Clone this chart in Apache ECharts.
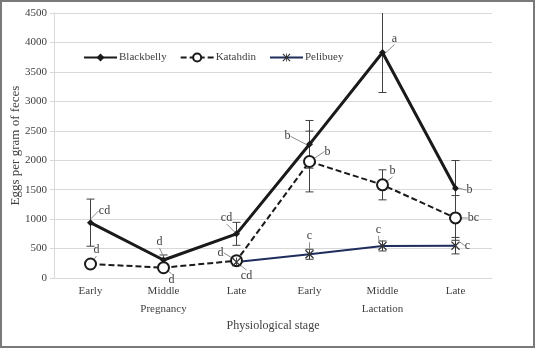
<!DOCTYPE html>
<html><head><meta charset="utf-8">
<script src="https://cdn.jsdelivr.net/npm/echarts@6/dist/echarts.min.js"></script>
<style>
html,body{margin:0;padding:0;background:#fff;}
#c{width:535px;height:348px;box-sizing:border-box;border:2px solid #7a7a7a;}
</style></head>
<body><div id="c"></div>
<script>
var categories = ['Early','Middle','Late','Early','Middle','Late'];
var groups = ['Pregnancy','Lactation'];
var blackbelly = [940, 306, 750, 2270, 3830, 1525];
var blackbellyErr = [400, 85, 195, 405, 680, 470];
var blackbellyLetters = ['cd','d','cd','b','a','b'];
var katahdin = [238, 175, 294, 1978, 1582, 1020];
var katahdinErr = [40, 40, 50, 516, 255, 380];
var katahdinLetters = ['d','d','d','b','b','bc'];
var pelibuey = [null, null, 270, 403, 544, 549];
var pelibueyErr = [null, null, 60, 85, 85, 140];
var pelibueyLetters = [null, null, 'cd','c','c','c'];
var yTicks = [0,500,1000,1500,2000,2500,3000,3500,4000,4500];

var FONT = 'Liberation Serif';
var TXT = '#404040';

// label offsets (styling only)
var bbOff = [[14,-12],[-4,-18],[-10,-16],[-22,-8],[12,-14],[14,2]];
var ktOff = [[6,-14],[8,12],[-16,-8],[18,-10],[10,-14],[18,0]];
var pbOff = [null,null,[10,14],[0,-18],[-4,-16],[12,0]];

function mkData(vals, letters){
  return vals.map(function(v,i){ return {value:v, letter:letters[i]}; });
}
function errData(vals, errs){
  var out=[];
  vals.forEach(function(v,i){ if(v!=null && errs[i]!=null) out.push([i, v-errs[i], v+errs[i]]); });
  return out;
}
function errSeries(vals, errs, color, capW){
  return {
    type:'custom', xAxisIndex:0, yAxisIndex:0, z:1, clip:true, silent:true,
    data: errData(vals, errs),
    renderItem: function(params, api){
      var x=api.value(0);
      var lo=api.coord([x, api.value(1)]);
      var hi=api.coord([x, api.value(2)]);
      var st={stroke:color, lineWidth:1};
      return {type:'group', children:[
        {type:'line', shape:{x1:lo[0],y1:lo[1],x2:hi[0],y2:hi[1]}, style:st},
        {type:'line', shape:{x1:lo[0]-capW,y1:lo[1],x2:lo[0]+capW,y2:lo[1]}, style:st},
        {type:'line', shape:{x1:hi[0]-capW,y1:hi[1],x2:hi[0]+capW,y2:hi[1]}, style:st}
      ]};
    }
  };
}
function lbl(){
  return {
    show:true, position:'inside', fontFamily:FONT, fontSize:12, color:TXT,
    formatter:function(p){ return p.data.letter||''; }
  };
}
function lay(offs){
  return function(p){ var o=offs[p.dataIndex]; if(!o) return {}; return {dx:o[0], dy:o[1]}; };
}
var asterisk = 'path://M1,0L5,4L9,0L10,1L6,5L10,9L9,10L5,6L1,10L0,9L4,5L0,1Z M4.5,0L5.5,0L5.5,10L4.5,10Z';

var chart = echarts.init(document.getElementById('c'));
chart.setOption({
  animation:false,
  grid:{left:52, right:41, top:11, bottom:68, containLabel:false, outerBoundsMode:'none'},
  legend:{
    top:45, left:76, itemGap:13, itemWidth:33, itemHeight:10,
    textStyle:{fontFamily:FONT, fontSize:11, color:TXT, padding:[0,0,0,-3]},
    data:['Blackbelly','Katahdin','Pelibuey']
  },
  xAxis:[
    {type:'category', data:categories, position:'bottom',
     axisLine:{lineStyle:{color:'#d9d9d9'}},
     axisTick:{interval:0, length:19, lineStyle:{color:'#d9d9d9'}},
     axisLabel:{fontFamily:FONT, fontSize:11, color:TXT, margin:8}},
    {type:'category', data:groups, position:'bottom',
     axisLine:{show:false},
     axisTick:{interval:0, length:39, lineStyle:{color:'#d9d9d9'}},
     axisLabel:{fontFamily:FONT, fontSize:11, color:TXT, margin:26},
     name:'Physiological stage', nameLocation:'middle', nameGap:42, nameMoveOverlap:false,
     nameTextStyle:{fontFamily:FONT, fontSize:12, color:TXT}}
  ],
  yAxis:{type:'value', min:0, max:4500, interval:500,
    name:'Eggs per gram of feces', nameLocation:'middle', nameGap:32, nameMoveOverlap:false,
    nameTextStyle:{fontFamily:FONT, fontSize:13, color:TXT},
    axisLine:{show:true, lineStyle:{color:'#d9d9d9'}},
    axisTick:{show:true, length:4, lineStyle:{color:'#d9d9d9'}},
    splitLine:{lineStyle:{color:'#d9d9d9'}},
    axisLabel:{fontFamily:FONT, fontSize:11, color:TXT, margin:7,
      formatter:function(v){ return yTicks.indexOf(v)>=0 ? String(v) : ''; }}
  },
  series:[
    errSeries(blackbelly, blackbellyErr, '#404040', 4),
    errSeries(katahdin, katahdinErr, '#404040', 4),
    errSeries(pelibuey, pelibueyErr, '#404040', 4),
    {name:'Blackbelly', type:'line', z:3, data:mkData(blackbelly, blackbellyLetters),
     symbol:'diamond', symbolSize:7, lineStyle:{color:'#1a1a1a', width:3},
     itemStyle:{color:'#1a1a1a'},
     label:lbl(), labelLayout:lay(bbOff), labelLine:{show:true, lineStyle:{color:'#8c8c8c', width:1}}},
    {name:'Katahdin', type:'line', z:3, data:mkData(katahdin, katahdinLetters),
     symbol:'emptyCircle', symbolSize:11, lineStyle:{color:'#1a1a1a', width:2, type:[6,3]},
     itemStyle:{color:'#1a1a1a', borderWidth:1.2},
     label:lbl(), labelLayout:lay(ktOff), labelLine:{show:true, lineStyle:{color:'#8c8c8c', width:1}}},
    {name:'Pelibuey', type:'line', z:3, data:mkData(pelibuey, pelibueyLetters),
     symbol:asterisk, symbolSize:9, lineStyle:{color:'#1f2d5c', width:2},
     itemStyle:{color:'#333333'},
     label:lbl(), labelLayout:lay(pbOff), labelLine:{show:true, lineStyle:{color:'#8c8c8c', width:1}}}
  ]
});
</script></body></html>
